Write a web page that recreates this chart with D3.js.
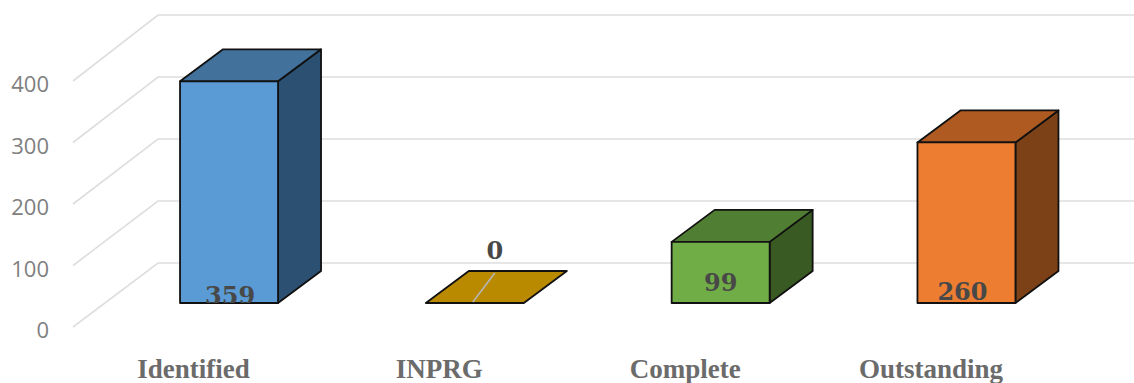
<!DOCTYPE html>
<html>
<head>
<meta charset="utf-8">
<script src="https://cdn.jsdelivr.net/npm/d3@7"></script>
<style>
  html, body { margin: 0; padding: 0; background: #fff; overflow: hidden; }
  svg { display: block; }
</style>
</head>
<body>
<script>
// Work order status counts
const categories = ["Identified", "INPRG", "Complete", "Outstanding"];
const counts = [359, 0, 99, 260];
const axisTicks = [0, 100, 200, 300, 400];
const frontColors = ["#5b9bd5", "#bb8c00", "#70ad47", "#ed7d31"];
const topColors = ["#42719c", "#b98a00", "#507e32", "#ae5a21"];
const sideColors = ["#2c5072", "#7f6000", "#395a23", "#7c4116"];

const width = 1134, height = 383;

// Perspective of the 3D box: how far the back plane sits from the front plane
const depthX = 43, depthY = -32;
const floorY = 303;

const x = d3.scaleBand().domain(categories).range([106.3, 1089.2]).paddingInner(0.6013).paddingOuter(0.3);

const barHeight = d3.scaleLinear().domain([0, 400]).range([0, 247]);
const wallFront = d3.scaleLinear().domain([0, 400]).range([327, 81]);
const wallBack = d3.scaleLinear().domain([0, 400]).range([263, 15]);

const svg = d3.select("body").append("svg").attr("width", width).attr("height", height);

// Gridlines: a diagonal along the side wall, then straight across the back wall
svg.append("g").selectAll("path").data(axisTicks).join("path")
  .attr("d", v => d3.line()([[73, wallFront(v)], [158, wallBack(v)], [width, wallBack(v)]]))
  .attr("fill", "none").attr("stroke", "#dedede").attr("stroke-width", 1.6);

// Value axis labels
const axis = d3.axisLeft(wallFront).tickValues(axisTicks).tickSize(0).tickPadding(0);
const axisG = svg.append("g").attr("transform", "translate(49,3.5)").call(axis);
axisG.select(".domain").remove();
axisG.selectAll("text").attr("font-family", "'Open Sans', sans-serif").attr("font-size", 22).attr("fill", "#7f7f7f");

// Bars as three-faced boxes
const bars = svg.append("g").selectAll("g").data(categories.map((c, i) => ({ c, i, v: counts[i] }))).join("g");
const poly = pts => d3.line()(pts) + "Z";
function face(sel, fill, pts) {
  sel.append("path").attr("d", pts).attr("fill", fill)
    .attr("stroke", "#111").attr("stroke-width", 1.8).attr("stroke-linejoin", "round");
}
bars.each(function (d) {
  const g = d3.select(this);
  const l = x(d.c), r = l + x.bandwidth(), h = barHeight(d.v), t = floorY - h;
  if (d.v > 0) {
    face(g, sideColors[d.i], poly([[r, floorY], [r + depthX, floorY + depthY], [r + depthX, t + depthY], [r, t]]));
  }
  face(g, topColors[d.i], poly([[l, t], [l + depthX, t + depthY], [r + depthX, t + depthY], [r, t]]));
  if (d.v > 0) {
    face(g, frontColors[d.i], poly([[l, floorY], [l, t], [r, t], [r, floorY]]));
  }
});

// Leader line crossing the flat zero-height bar
const zero = categories[1];
svg.append("line")
  .attr("x1", x(zero) + 47).attr("y1", floorY - 1)
  .attr("x2", x(zero) + 69).attr("y2", floorY + depthY + 2)
  .attr("stroke", "#b5b5b5").attr("stroke-width", 1.6);

// Value labels; the tallest one is cut off by the lower edge of its bar
const labelDx = [1, 20, 0, -4];
const labelBase = [304, 259, 291, 300];
svg.append("clipPath").attr("id", "aboveFloor").append("rect")
  .attr("x", 0).attr("y", 0).attr("width", width).attr("height", floorY);
svg.append("g").attr("clip-path", "url(#aboveFloor)").selectAll("text").data(counts).join("text")
  .attr("x", (v, i) => x(categories[i]) + x.bandwidth() / 2 + labelDx[i])
  .attr("y", (v, i) => labelBase[i])
  .attr("text-anchor", "middle")
  .attr("font-family", "'DejaVu Serif', serif").attr("font-weight", "bold").attr("font-size", 24)
  .attr("fill", "#484848")
  .text(v => v);

// Category labels sit left of their bars, following the chart's perspective
svg.append("g").selectAll("text").data(categories).join("text")
  .attr("x", c => x(c) + x.bandwidth() / 2 - 35.5)
  .attr("y", 378)
  .attr("text-anchor", "middle")
  .attr("font-family", "'Liberation Serif', serif").attr("font-weight", "bold").attr("font-size", 27)
  .attr("fill", "#6b6b6b")
  .text(c => c);
</script>
</body>
</html>
